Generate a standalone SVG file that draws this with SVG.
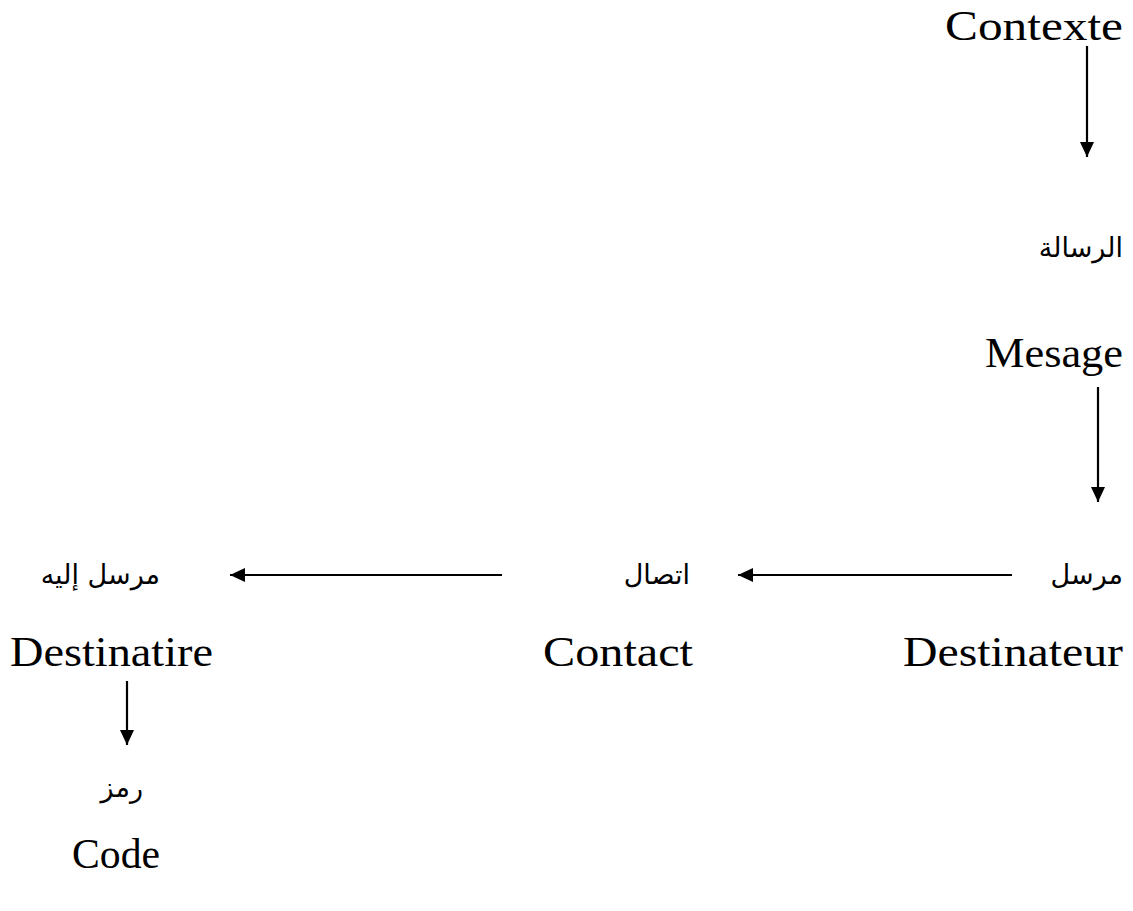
<svg xmlns="http://www.w3.org/2000/svg" width="1133" height="911" viewBox="0 0 1133 911">
<style>
.lat{font-family:"Liberation Serif","Times New Roman",serif;font-size:42px;fill:#000}
.ar{font-family:"DejaVu Serif","DejaVu Sans","Noto Sans",serif;font-size:27px;fill:#000;text-anchor:end}
.c{stroke:#000;stroke-width:2.2;fill:none;marker-end:url(#ah)}
</style>
<defs>
<marker id="ah" viewBox="0 0 15 14" refX="15" refY="7" markerWidth="15" markerHeight="14" markerUnits="userSpaceOnUse" orient="auto">
<path d="M0,0 L15,7 L0,14 Z" fill="#000"/>
</marker>
</defs>
<rect width="1133" height="911" fill="#fff"/>
<g id="connectors">
<line class="c" x1="1087" y1="46" x2="1087" y2="157"/>
<line class="c" x1="1098" y1="387" x2="1098" y2="502"/>
<line class="c" x1="1012" y1="575" x2="738" y2="575"/>
<line class="c" x1="502" y1="575" x2="230" y2="575"/>
<line class="c" x1="127" y1="681" x2="127" y2="745"/>
</g>
<g id="contexte"><text class="lat" x="945" y="40" textLength="178" lengthAdjust="spacingAndGlyphs">Contexte</text></g>
<g id="message">
<text class="ar" x="1123" y="257">الرسالة</text>
<text class="lat" x="985" y="367" textLength="138" lengthAdjust="spacingAndGlyphs">Mesage</text>
</g>
<g id="destinateur">
<text class="ar" x="1123" y="584">مرسل</text>
<text class="lat" x="903" y="666" textLength="220" lengthAdjust="spacingAndGlyphs">Destinateur</text>
</g>
<g id="contact">
<text class="ar" x="690" y="584">اتصال</text>
<text class="lat" x="543" y="666" textLength="150" lengthAdjust="spacingAndGlyphs">Contact</text>
</g>
<g id="destinataire">
<text class="ar" x="160" y="584">مرسل إليه</text>
<text class="lat" x="10" y="666" textLength="203" lengthAdjust="spacingAndGlyphs">Destinatire</text>
</g>
<g id="code">
<text class="ar" x="143" y="797">رمز</text>
<text class="lat" x="72" y="868" textLength="88" lengthAdjust="spacingAndGlyphs">Code</text>
</g>
</svg>
